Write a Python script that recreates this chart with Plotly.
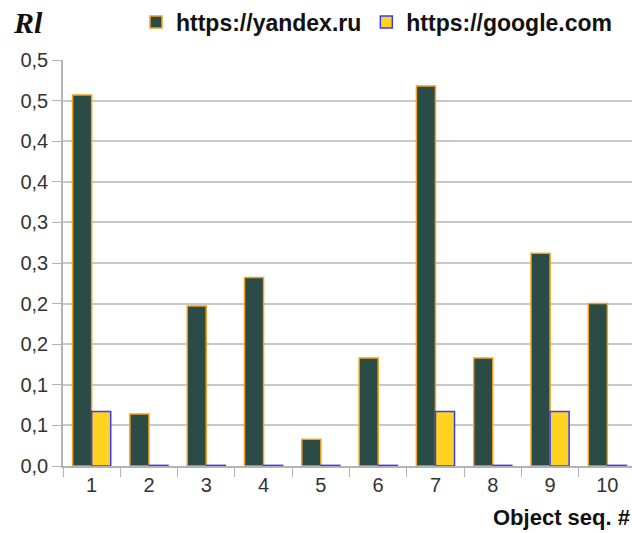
import plotly.graph_objects as go

categories = ["1", "2", "3", "4", "5", "6", "7", "8", "9", "10"]
yandex = [0.457, 0.064, 0.197, 0.232, 0.033, 0.133, 0.468, 0.133, 0.262, 0.2]
google = [0.067, 0, 0, 0, 0, 0, 0.067, 0, 0.067, 0]
ytick_vals = [0, 0.05, 0.1, 0.15, 0.2, 0.25, 0.3, 0.35, 0.4, 0.45, 0.5]
ytick_text = ["0,0", "0,1", "0,1", "0,2", "0,2", "0,3", "0,3", "0,4", "0,4", "0,5", "0,5"]

L, R, T, B = 63, 0, 60, 67
W, H = 632, 533
plot_w = W - L - R
plot_h = H - T - B


def px(x):
    return (x - L) / plot_w


def py(y):
    return (H - B - y) / plot_h


# zero-valued bars are drawn as a hairline outline at the baseline (as in the reference)
EPS = 0.0008
google_drawn = [v if v > 0 else EPS for v in google]

fig = go.Figure()
fig.add_trace(go.Bar(x=categories, y=yandex, name="https://yandex.ru",
                     marker=dict(color="#2b4b47", line=dict(color="#f7a01c", width=1.5))))
fig.add_trace(go.Bar(x=categories, y=google_drawn, name="https://google.com",
                     customdata=google, hovertemplate="%{customdata}<extra></extra>",
                     marker=dict(color="#ffd320", line=dict(color="#3a3aff", width=1.5))))

fig.update_layout(
    width=W, height=H,
    margin=dict(l=L, r=R, t=T, b=B, autoexpand=False),
    plot_bgcolor="white", paper_bgcolor="white",
    barmode="group", bargap=0.335, bargroupgap=0,
    font=dict(family="Liberation Sans, Arial, sans-serif", color="#333333", size=20),
    showlegend=True,
    legend=dict(orientation="h", x=px(136), xanchor="left", y=py(22), yanchor="middle",
                font=dict(size=23, color="#111111", family="Liberation Sans, Arial, sans-serif",
                          weight="bold"),
                itemwidth=30, traceorder="normal", bgcolor="rgba(0,0,0,0)"),
    xaxis=dict(type="category", range=[-0.5, 9.43], showline=True, linecolor="#b3b3b3",
               linewidth=1.5, ticks="outside", tickson="boundaries", ticklen=9,
               tickcolor="#b3b3b3", showgrid=False, layer="below traces",
               tickfont=dict(size=20, color="#333333")),
    yaxis=dict(range=[0, 0.5], tickvals=ytick_vals, ticktext=ytick_text, showline=True,
               linecolor="#b3b3b3", linewidth=1.5, ticks="outside", ticklen=9,
               tickcolor="#b3b3b3", gridcolor="#c8c8c8", gridwidth=1.5,
               zeroline=False, layer="below traces",
               tickfont=dict(size=20, color="#333333")),
    annotations=[
        dict(text="<b><i>Rl</i></b>", x=px(11), y=py(22), xref="paper", yref="paper",
             showarrow=False, xanchor="left", yanchor="middle",
             font=dict(family="Liberation Serif, serif", size=30, color="#111111")),
        dict(text="<b>Object seq. #</b>", x=px(632), y=py(517), xref="paper", yref="paper",
             showarrow=False, xanchor="right", yanchor="middle",
             font=dict(size=22, color="#111111")),
    ],
)

fig.write_html("out.html", config={"displayModeBar": False},
               post_script="document.body.style.margin='0';")
